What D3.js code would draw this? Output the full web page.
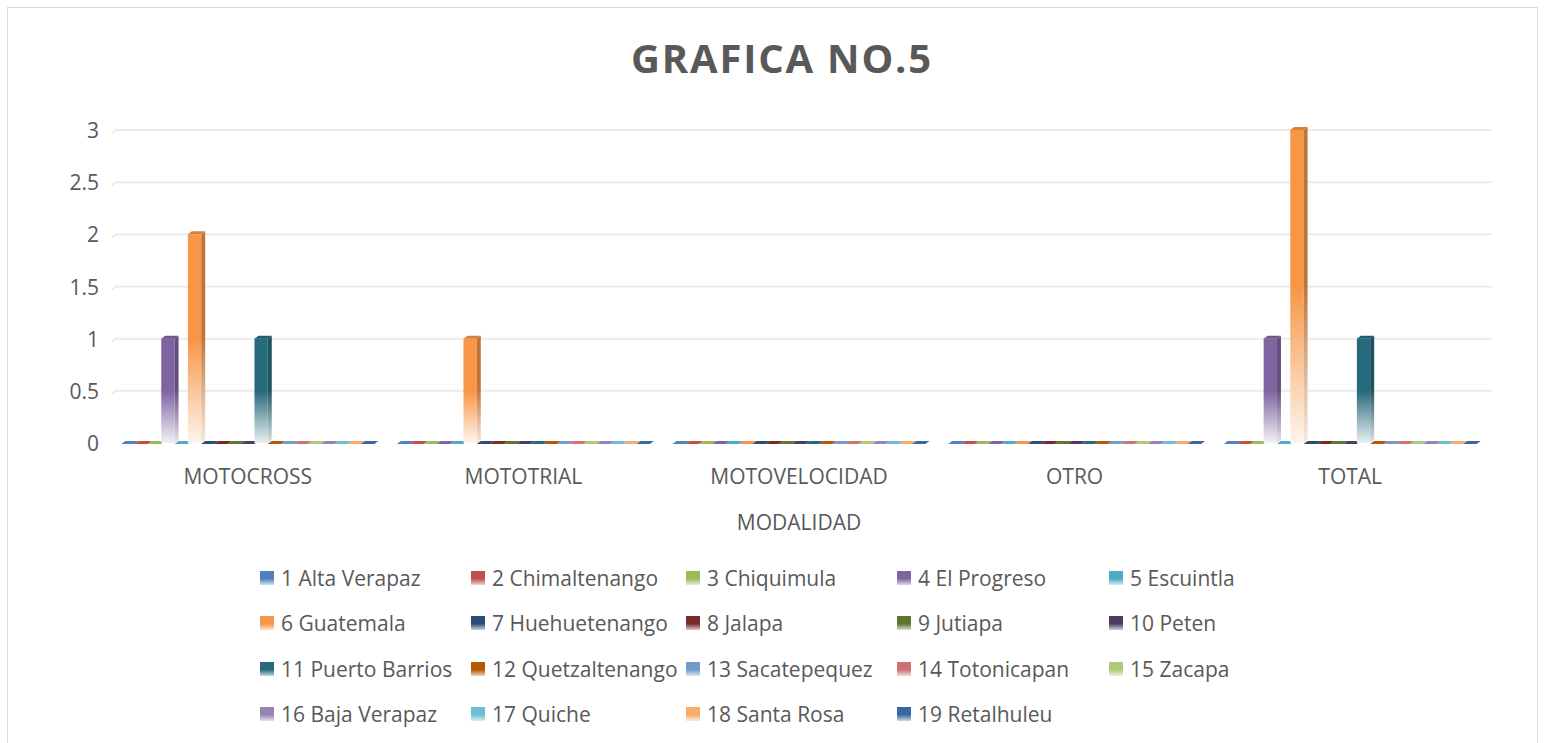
<!DOCTYPE html>
<html>
<head>
<meta charset="utf-8">
<script src="https://cdn.jsdelivr.net/npm/d3@7"></script>
<style>
  body { margin: 0; background: #fff; }
  text { font-family: "Open Sans", sans-serif; fill: #595959; }
</style>
</head>
<body>
<svg id="chart" width="1544" height="743"></svg>
<script>
// categories and series
var categories = ["MOTOCROSS", "MOTOTRIAL", "MOTOVELOCIDAD", "OTRO", "TOTAL"];
var seriesNames = ["1 Alta Verapaz", "2 Chimaltenango", "3 Chiquimula", "4 El Progreso", "5 Escuintla",
    "6 Guatemala", "7 Huehuetenango", "8 Jalapa", "9 Jutiapa", "10 Peten",
    "11 Puerto Barrios", "12 Quetzaltenango", "13 Sacatepequez", "14 Totonicapan", "15 Zacapa",
    "16 Baja Verapaz", "17 Quiche", "18 Santa Rosa", "19 Retalhuleu"];
var seriesColors = ["#4F81BD", "#C0504D", "#9BBB59", "#8064A2", "#4BACC6",
    "#F79646", "#2C4D75", "#772C2A", "#5F7530", "#4D3B62",
    "#276A7C", "#B65708", "#729ACA", "#CD7371", "#AFC97A",
    "#9983B5", "#6FBDD1", "#F9AB6B", "#3A679E"];
// values per series, one entry per category
var motocross     = [0, 0, 0, 1, 0, 2, 0, 0, 0, 0, 1, 0, 0, 0, 0, 0, 0, 0, 0];
var mototrial     = [0, 0, 0, 0, 0, 1, 0, 0, 0, 0, 0, 0, 0, 0, 0, 0, 0, 0, 0];
var motovelocidad = [0, 0, 0, 0, 0, 0, 0, 0, 0, 0, 0, 0, 0, 0, 0, 0, 0, 0, 0];
var otro          = [0, 0, 0, 0, 0, 0, 0, 0, 0, 0, 0, 0, 0, 0, 0, 0, 0, 0, 0];
var total         = [0, 0, 0, 1, 0, 3, 0, 0, 0, 0, 1, 0, 0, 0, 0, 0, 0, 0, 0];
var yTicks = [0, 0.5, 1, 1.5, 2, 2.5, 3];

var valuesByCat = [motocross, mototrial, motovelocidad, otro, total];
var data = [];
valuesByCat.forEach(function (vals, ci) {
    vals.forEach(function (v, si) {
        data.push({cat: categories[ci], series: seriesNames[si], idx: si, value: v});
    });
});

var svg = d3.select("#chart");

// chart frame
svg.append("rect")
    .attr("x", 7.5).attr("y", 7.5)
    .attr("width", 1530).attr("height", 760)
    .attr("fill", "none").attr("stroke", "#d9d9d9");

var dx = 4, dy = 3;  // fake 3d depth

var x0 = d3.scaleBand().domain(categories).range([110, 1488])
    .paddingInner(0.082).paddingOuter(0.041);
var x1 = d3.scaleBand().domain(seriesNames).range([0, x0.bandwidth()]);
var y = d3.scaleLinear().domain([0, 3]).range([443, 130]);

// gradients
var defs = svg.append("defs");
seriesColors.forEach(function (c, i) {
    var g = defs.append("linearGradient").attr("id", "gf" + i)
        .attr("x1", 0).attr("y1", 0).attr("x2", 0).attr("y2", 1);
    g.append("stop").attr("offset", 0).attr("stop-color", c);
    g.append("stop").attr("offset", 0.5).attr("stop-color", c);
    g.append("stop").attr("offset", 1).attr("stop-color", d3.interpolateRgb(c, "#fff")(0.9));
    var dark = d3.color(c).darker(0.7).formatHex();
    var s = defs.append("linearGradient").attr("id", "gs" + i)
        .attr("x1", 0).attr("y1", 0).attr("x2", 0).attr("y2", 1);
    s.append("stop").attr("offset", 0).attr("stop-color", dark);
    s.append("stop").attr("offset", 0.5).attr("stop-color", dark);
    s.append("stop").attr("offset", 1).attr("stop-color", d3.interpolateRgb(dark, "#fff")(0.85));
    var lg = defs.append("linearGradient").attr("id", "gl" + i)
        .attr("x1", 0).attr("y1", 0).attr("x2", 0).attr("y2", 1);
    lg.append("stop").attr("offset", 0).attr("stop-color", c);
    lg.append("stop").attr("offset", 0.55).attr("stop-color", c);
    lg.append("stop").attr("offset", 1).attr("stop-color", d3.interpolateRgb(c, "#fff")(0.75));
});

// gridlines
var grid = svg.append("g");
yTicks.forEach(function (t) {
    if (t == 0) return;
    grid.append("path")
        .attr("d", "M" + 112 + "," + (y(t) + 3) + "L" + (112 + dx) + "," + (y(t)) + "L1492," + y(t))
        .attr("fill", "none").attr("stroke", "#ebebeb").attr("stroke-width", 2);
});

// y axis labels
svg.append("g").selectAll("text")
    .data(yTicks).enter().append("text")
    .attr("x", 99).attr("y", d => y(d) + 8)
    .attr("text-anchor", "end")
    .style("font-size", "21px")
    .text(d => d);

// bars
var bars = svg.append("g").selectAll("g.bar")
    .data(data).enter().append("g").attr("class", "bar");

bars.each(function (d) {
    var g = d3.select(this);
    var bx = x0(d.cat) + x1(d.series);
    var w = x1.bandwidth();
    var y0 = y(0), yt = y(d.value);
    var c = seriesColors[d.idx];
    if (d.value == 0) {
        g.append("path")
            .attr("d", `M${bx},${y0 + 1}L${bx + w},${y0 + 1}L${bx + w + dx},${y0 - dy + 1}L${bx + dx},${y0 - dy + 1}Z`)
            .attr("fill", c);
        return;
    }
    // front face
    g.append("rect")
        .attr("x", bx).attr("y", yt)
        .attr("width", w).attr("height", y0 - yt)
        .attr("fill", "url(#gf" + d.idx + ")");
    // side face
    g.append("path")
        .attr("d", `M${bx + w},${yt}L${bx + w + dx},${yt - dy}L${bx + w + dx},${y0 - dy}L${bx + w},${y0}Z`)
        .attr("fill", "url(#gs" + d.idx + ")");
    // top face
    g.append("path")
        .attr("d", `M${bx},${yt}L${bx + dx},${yt - dy}L${bx + w + dx},${yt - dy}L${bx + w},${yt}Z`)
        .attr("fill", d3.color(c).darker(0.4).formatHex());
});

// category labels
svg.append("g").selectAll("text")
    .data(categories).enter().append("text")
    .attr("x", d => x0(d) + x0.bandwidth() / 2)
    .attr("y", 484)
    .attr("text-anchor", "middle")
    .style("font-size", "21px")
    .text(d => d);

svg.append("text")
    .attr("x", 799).attr("y", 530)
    .attr("text-anchor", "middle")
    .style("font-size", "21px")
    .text("MODALIDAD");

// title
svg.append("text")
    .attr("x", 782).attr("y", 73)
    .attr("text-anchor", "middle")
    .style("font-size", "40px")
    .style("font-weight", "bold")
    .style("letter-spacing", "1.8px")
    .text("GRAFICA NO.5");

// legend
var legendX = [260, 471, 686, 897, 1109];
var legendY = [578, 623, 669, 714];
var legend = svg.append("g").selectAll("g")
    .data(seriesNames).enter().append("g")
    .attr("transform", (d, i) => `translate(${legendX[i % 5]},${legendY[Math.floor(i / 5)]})`);
legend.append("rect")
    .attr("x", 0).attr("y", -7)
    .attr("width", 14).attr("height", 14)
    .attr("fill", (d, i) => "url(#gl" + i + ")");
legend.append("text")
    .attr("x", 21).attr("y", 8)
    .style("font-size", "21px")
    .text(d => d);
</script>
</body>
</html>
